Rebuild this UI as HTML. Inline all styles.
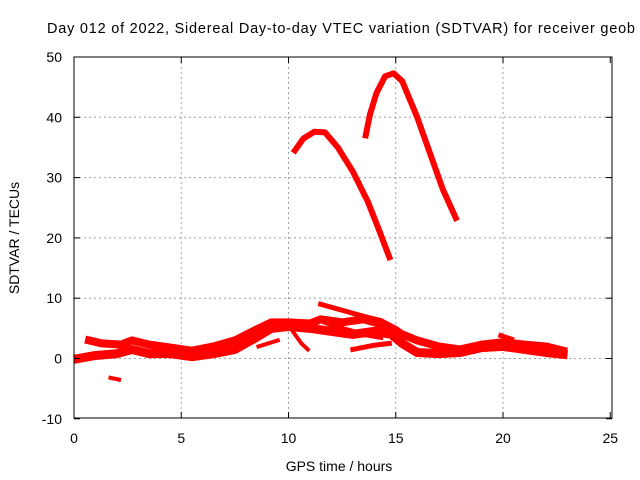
<!DOCTYPE html>
<html><head><meta charset="utf-8"><style>
body{margin:0;background:#fff}
svg{display:block;font-family:"Liberation Sans",sans-serif}
</style></head><body>
<svg id="c" width="640" height="480" xmlns="http://www.w3.org/2000/svg">
<text x="47" y="33" font-size="14.5" textLength="588" lengthAdjust="spacing">Day 012 of 2022, Sidereal Day-to-day VTEC variation (SDTVAR) for receiver geob</text>
<g id="grid"></g>
<g id="series"></g>
<rect x="74" y="57" width="538" height="361" fill="none" stroke="#000" stroke-width="1"/>
<g id="ticks"></g>
<text x="339" y="471" font-size="14" text-anchor="middle">GPS time / hours</text>
<text x="19" y="238" font-size="14" text-anchor="middle" transform="rotate(-90 19 238)">SDTVAR / TECUs</text>
</svg>
<script>
const xTicks=[0,5,10,15,20,25];
const yTicks=[-10,0,10,20,30,40,50];
const arc1=[[10.3,34.5],[10.7,36.5],[11.2,37.6],[11.7,37.5],[12.3,35],[13,31],[13.7,26],[14.2,21.5],[14.7,16.8]];
const arc2=[[13.6,37],[13.8,40.5],[14.1,44],[14.5,46.8],[14.9,47.3],[15.3,46],[16,40],[16.6,34],[17.2,28],[17.8,23.3]];
const bandUpper=[[0.7,3],[1.3,2.5],[2.2,2.3],[2.7,3],[3.5,2.3],[4.5,1.8],[5.5,1.3],[6.5,2],[7.5,3],[8.5,4.8],[9.2,6],[10,6],[11,5.8],[11.5,6.5],[12.5,6],[13.5,6.5],[14.5,5.5],[15.3,4],[16,3],[17,2],[18,1.5],[19,2.3],[20,2.7],[21,2.3],[22,2],[22.8,1.3]];
const bandLower=[[0.2,0],[1,0.5],[2,0.8],[2.7,1.5],[3.5,0.8],[4.5,0.8],[5.5,0.3],[6.5,0.8],[7.5,1.5],[8.5,3.5],[9.2,5],[10,5.3],[11,5],[12,4.5],[13,4],[14,4.5],[14.8,4],[15.3,2.5],[16,1],[17,0.8],[18,1],[19,1.8],[20,2],[21,1.5],[22,1],[22.8,0.7]];
const branchTop=[[11.5,9],[12.5,8],[13.5,7],[14.3,6.3],[15,5],[15.6,3.5]];
const branchMid=[[11.7,6],[12.5,5],[13.5,4],[14.3,3.5]];
const branchLow=[[13,1.5],[14,2.2],[14.7,2.5]];
const branchA=[[8.6,2],[9.5,3]];
const branchB=[[10.2,4.5],[10.6,2.5],[10.9,1.5]];
const blip1=[[1.7,-3.2],[2.1,-3.5]];
const blip2=[[19.9,3.8],[20.4,3.2]];
const X=h=>74+h*21.45, Y=v=>358.5-v*6.03;
const NS='http://www.w3.org/2000/svg';
const grid=document.getElementById('grid'),ticks=document.getElementById('ticks'),ser=document.getElementById('series');
function mk(tag,attrs,parent){const e=document.createElementNS(NS,tag);for(const k in attrs)e.setAttribute(k,attrs[k]);parent.appendChild(e);return e;}
xTicks.forEach(t=>{
  if(t>0&&t<25){const g=mk('line',{x1:X(t),x2:X(t),y1:57,y2:418,stroke:'#a0a0a0','stroke-dasharray':'2,3'},grid);
  
  }
  mk('line',{x1:X(t),x2:X(t),y1:418,y2:412,stroke:'#000'},ticks);
  mk('line',{x1:X(t),x2:X(t),y1:57,y2:63,stroke:'#000'},ticks);
  const l=mk('text',{x:X(t),y:443,'font-size':14,'text-anchor':'middle'},ticks);l.textContent=t;
  
  
});
yTicks.forEach(t=>{
  if(t>-10&&t<50){const g=mk('line',{x1:74,x2:612,y1:Y(t),y2:Y(t),stroke:'#a0a0a0','stroke-dasharray':'2,3'},grid);
  
  }
  mk('line',{x1:74,x2:80,y1:Y(t),y2:Y(t),stroke:'#000'},ticks);
  mk('line',{x1:612,x2:606,y1:Y(t),y2:Y(t),stroke:'#000'},ticks);
  const l=mk('text',{x:62,y:Y(t)+5,'font-size':14,'text-anchor':'end'},ticks);l.textContent=t;
  
  
});
function draw(pts,w,name){
  const p=mk('polyline',{points:pts.map(d=>X(d[0])+','+Y(d[1])).join(' '),fill:'none',stroke:'#f00','stroke-width':w,'stroke-linejoin':'round','stroke-linecap':'square'},ser);
  
  
}
draw(arc1,6,'series-arc-1');
draw(arc2,6,'series-arc-2');
draw(bandUpper,8,'series-band-upper');
draw(bandLower,9,'series-band-lower');
draw(branchTop,5,'series-branch-top');
draw(branchMid,5,'series-branch-mid');
draw(branchLow,5,'series-branch-low');
draw(branchA,4,'series-branch-a');
draw(branchB,4,'series-branch-b');
draw(blip1,4,'series-blip-1');
draw(blip2,5,'series-blip-2');
</script>
</body></html>
